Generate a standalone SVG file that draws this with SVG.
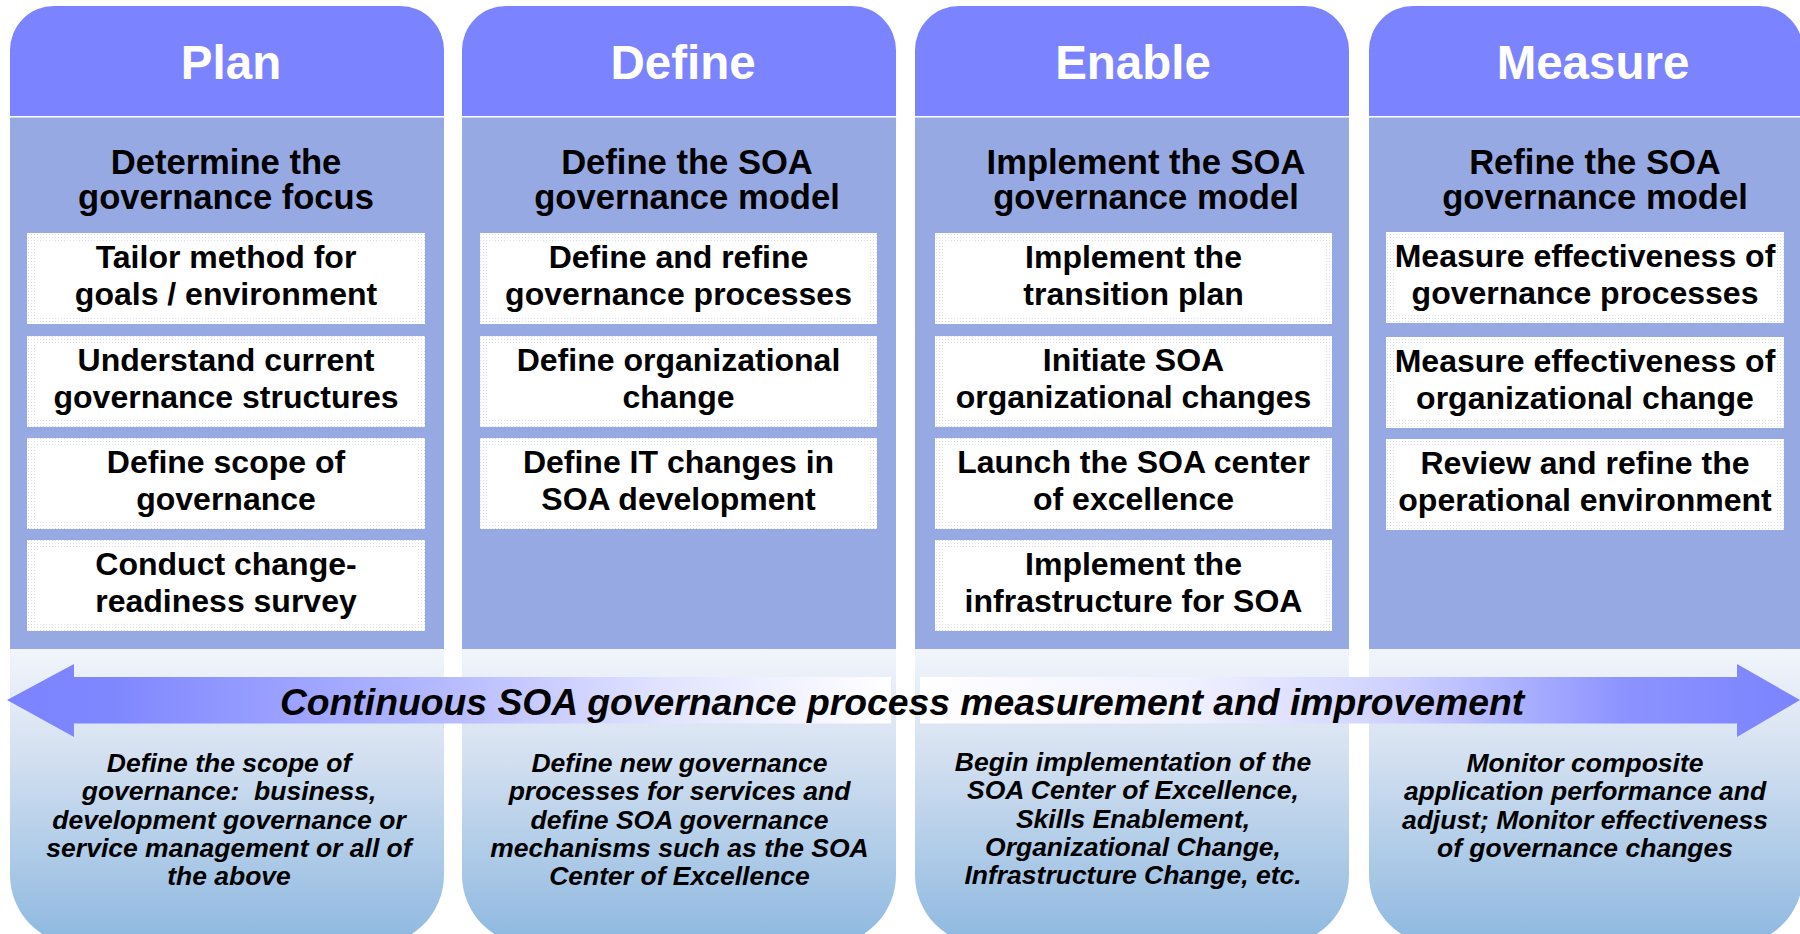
<svg xmlns="http://www.w3.org/2000/svg" width="1800" height="934" viewBox="0 0 1800 934">
<style>
.hdr{fill:#7B84FE}
.body{fill:#97A9E3}
.bot{fill:url(#botGrad)}
.boxbg{fill:url(#dots)}
.boxin{fill:#FFFFFF}
text{font-family:"Liberation Sans",Arial,sans-serif;font-weight:bold;fill:#000;text-anchor:middle}
.htxt{font-size:47.5px;fill:#FFFFFF}
.ttl{font-size:34.6px}
.btxt{font-size:32px}
.desc{font-size:26.5px;font-style:italic}
.arrtxt{font-size:37.3px;font-style:italic}
</style>
<defs>
<linearGradient id="botGrad" gradientUnits="userSpaceOnUse" x1="0" y1="649" x2="0" y2="940">
<stop offset="0" stop-color="#F2F5FB"/>
<stop offset="0.35" stop-color="#D5E1F1"/>
<stop offset="1" stop-color="#8FB9E0"/>
</linearGradient>
<linearGradient id="arrL" gradientUnits="userSpaceOnUse" x1="7" y1="0" x2="891" y2="0">
<stop offset="0" stop-color="#7B83FF"/>
<stop offset="0.12" stop-color="#7F87FF"/>
<stop offset="0.45" stop-color="#AEB3FF"/>
<stop offset="0.75" stop-color="#E2E4FF"/>
<stop offset="1" stop-color="#FFFFFF"/>
</linearGradient>
<linearGradient id="arrR" gradientUnits="userSpaceOnUse" x1="920" y1="0" x2="1800" y2="0">
<stop offset="0" stop-color="#FFFFFF"/>
<stop offset="0.3" stop-color="#F0F1FF"/>
<stop offset="0.55" stop-color="#CDD0FF"/>
<stop offset="0.8" stop-color="#8C93FF"/>
<stop offset="1" stop-color="#7B83FF"/>
</linearGradient>
<pattern id="dots" width="3" height="3" patternUnits="userSpaceOnUse">
<rect width="3" height="3" fill="#FFFFFF"/>
<rect width="1" height="1" fill="#DADDE8"/>
</pattern>
</defs>

<g id="col-plan" transform="translate(10,0)">
<path class="hdr" d="M0,116 V50 A44,44 0 0 1 44,6 H390 A44,44 0 0 1 434,50 V116 Z"/>
<rect class="body" x="0" y="117.5" width="434" height="531.5"/>
<path class="bot" d="M0,649 H434 V875 A70,70 0 0 1 364,945 H70 A70,70 0 0 1 0,875 Z"/>
<text class="htxt" x="221" y="79">Plan</text>
<text class="ttl" x="216"><tspan x="216" y="174">Determine the</tspan><tspan x="216" y="209">governance focus</tspan></text>
<g id="plan-box1"><rect class="boxbg" x="17" y="233" width="398" height="91"/><rect class="boxin" x="25" y="241" width="382" height="75"/>
<text class="btxt"><tspan x="216" y="268">Tailor method for</tspan><tspan x="216" y="305">goals / environment</tspan></text></g>
<g id="plan-box2"><rect class="boxbg" x="17" y="336" width="398" height="91"/><rect class="boxin" x="25" y="344" width="382" height="75"/>
<text class="btxt"><tspan x="216" y="371">Understand current</tspan><tspan x="216" y="408">governance structures</tspan></text></g>
<g id="plan-box3"><rect class="boxbg" x="17" y="438" width="398" height="91"/><rect class="boxin" x="25" y="446" width="382" height="75"/>
<text class="btxt"><tspan x="216" y="473">Define scope of</tspan><tspan x="216" y="510">governance</tspan></text></g>
<g id="plan-box4"><rect class="boxbg" x="17" y="540" width="398" height="91"/><rect class="boxin" x="25" y="548" width="382" height="75"/>
<text class="btxt"><tspan x="216" y="575">Conduct change-</tspan><tspan x="216" y="612">readiness survey</tspan></text></g>
<text class="desc"><tspan x="219" y="772">Define the scope of</tspan><tspan x="219" y="800">governance:&#160; business,</tspan><tspan x="219" y="828.5">development governance or</tspan><tspan x="219" y="857">service management or all of</tspan><tspan x="219" y="885">the above</tspan></text>
</g>

<g id="col-define" transform="translate(462,0)">
<path class="hdr" d="M0,116 V50 A44,44 0 0 1 44,6 H390 A44,44 0 0 1 434,50 V116 Z"/>
<rect class="body" x="0" y="117.5" width="434" height="531.5"/>
<path class="bot" d="M0,649 H434 V875 A70,70 0 0 1 364,945 H70 A70,70 0 0 1 0,875 Z"/>
<text class="htxt" x="221" y="79">Define</text>
<text class="ttl"><tspan x="225" y="174">Define the SOA</tspan><tspan x="225" y="209">governance model</tspan></text>
<g id="define-box1"><rect class="boxbg" x="18" y="233" width="397" height="91"/><rect class="boxin" x="26" y="241" width="381" height="75"/>
<text class="btxt"><tspan x="216.5" y="268">Define and refine</tspan><tspan x="216.5" y="305">governance processes</tspan></text></g>
<g id="define-box2"><rect class="boxbg" x="18" y="336" width="397" height="91"/><rect class="boxin" x="26" y="344" width="381" height="75"/>
<text class="btxt"><tspan x="216.5" y="371">Define organizational</tspan><tspan x="216.5" y="408">change</tspan></text></g>
<g id="define-box3"><rect class="boxbg" x="18" y="438" width="397" height="91"/><rect class="boxin" x="26" y="446" width="381" height="75"/>
<text class="btxt"><tspan x="216.5" y="473">Define IT changes in</tspan><tspan x="216.5" y="510">SOA development</tspan></text></g>
<text class="desc"><tspan x="217.5" y="772">Define new governance</tspan><tspan x="217.5" y="800">processes for services and</tspan><tspan x="217.5" y="828.5">define SOA governance</tspan><tspan x="217.5" y="857">mechanisms such as the SOA</tspan><tspan x="217.5" y="885">Center of Excellence</tspan></text>
</g>

<g id="col-enable" transform="translate(915,0)">
<path class="hdr" d="M0,116 V50 A44,44 0 0 1 44,6 H390 A44,44 0 0 1 434,50 V116 Z"/>
<rect class="body" x="0" y="117.5" width="434" height="531.5"/>
<path class="bot" d="M0,649 H434 V875 A70,70 0 0 1 364,945 H70 A70,70 0 0 1 0,875 Z"/>
<text class="htxt" x="218" y="79">Enable</text>
<text class="ttl"><tspan x="231" y="174">Implement the SOA</tspan><tspan x="231" y="209">governance model</tspan></text>
<g id="enable-box1"><rect class="boxbg" x="20" y="233" width="397" height="91"/><rect class="boxin" x="28" y="241" width="381" height="75"/>
<text class="btxt"><tspan x="218.5" y="268">Implement the</tspan><tspan x="218.5" y="305">transition plan</tspan></text></g>
<g id="enable-box2"><rect class="boxbg" x="20" y="336" width="397" height="91"/><rect class="boxin" x="28" y="344" width="381" height="75"/>
<text class="btxt"><tspan x="218.5" y="371">Initiate SOA</tspan><tspan x="218.5" y="408">organizational changes</tspan></text></g>
<g id="enable-box3"><rect class="boxbg" x="20" y="438" width="397" height="91"/><rect class="boxin" x="28" y="446" width="381" height="75"/>
<text class="btxt"><tspan x="218.5" y="473">Launch the SOA center</tspan><tspan x="218.5" y="510">of excellence</tspan></text></g>
<g id="enable-box4"><rect class="boxbg" x="20" y="540" width="397" height="91"/><rect class="boxin" x="28" y="548" width="381" height="75"/>
<text class="btxt"><tspan x="218.5" y="575">Implement the</tspan><tspan x="218.5" y="612">infrastructure for SOA</tspan></text></g>
<text class="desc"><tspan x="218" y="771">Begin implementation of the</tspan><tspan x="218" y="799">SOA Center of Excellence,</tspan><tspan x="218" y="827.5">Skills Enablement,</tspan><tspan x="218" y="856">Organizational Change,</tspan><tspan x="218" y="884">Infrastructure Change, etc.</tspan></text>
</g>

<g id="col-measure" transform="translate(1369,0)">
<path class="hdr" d="M0,116 V50 A44,44 0 0 1 44,6 H390 A44,44 0 0 1 434,50 V116 Z"/>
<rect class="body" x="0" y="117.5" width="434" height="531.5"/>
<path class="bot" d="M0,649 H434 V875 A70,70 0 0 1 364,945 H70 A70,70 0 0 1 0,875 Z"/>
<text class="htxt" x="224" y="79">Measure</text>
<text class="ttl"><tspan x="226" y="174">Refine the SOA</tspan><tspan x="226" y="209">governance model</tspan></text>
<g id="measure-box1"><rect class="boxbg" x="17" y="232" width="398" height="91"/><rect class="boxin" x="25" y="240" width="382" height="75"/>
<text class="btxt"><tspan x="216" y="267">Measure effectiveness of</tspan><tspan x="216" y="304">governance processes</tspan></text></g>
<g id="measure-box2"><rect class="boxbg" x="17" y="337" width="398" height="91"/><rect class="boxin" x="25" y="345" width="382" height="75"/>
<text class="btxt"><tspan x="216" y="372">Measure effectiveness of</tspan><tspan x="216" y="409">organizational change</tspan></text></g>
<g id="measure-box3"><rect class="boxbg" x="17" y="439" width="398" height="91"/><rect class="boxin" x="25" y="447" width="382" height="75"/>
<text class="btxt"><tspan x="216" y="474">Review and refine the</tspan><tspan x="216" y="511">operational environment</tspan></text></g>
<text class="desc"><tspan x="216" y="772">Monitor composite</tspan><tspan x="216" y="800">application performance and</tspan><tspan x="216" y="828.5">adjust; Monitor effectiveness</tspan><tspan x="216" y="857">of governance changes</tspan></text>
</g>

<g id="process-arrow">
<polygon fill="url(#arrL)" points="7,700 74,664 74,677 891,677 891,723.5 74,723.5 74,737"/>
<polygon fill="url(#arrR)" points="920,677 1737,677 1737,664 1800,700 1737,737 1737,723.5 920,723.5"/>
<text class="arrtxt" x="902" y="715">Continuous SOA governance process measurement and improvement</text>
</g>
</svg>
